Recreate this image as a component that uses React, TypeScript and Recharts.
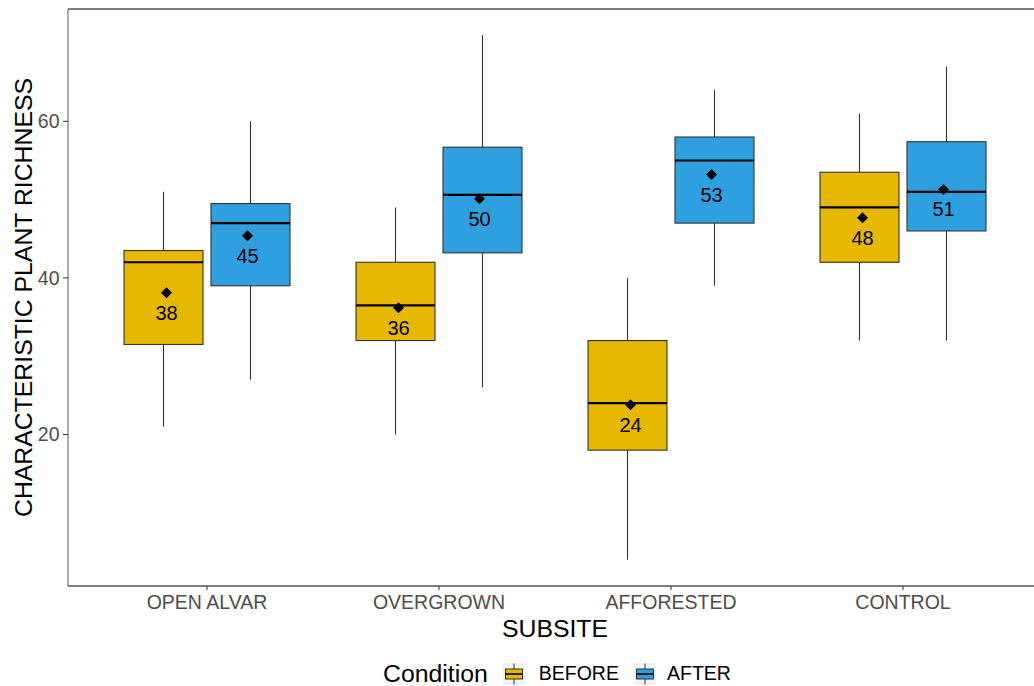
import React from 'react';
import { ComposedChart, Bar, XAxis, YAxis, Legend } from 'recharts';

// ---- data ----
const subsites = ['OPEN ALVAR', 'OVERGROWN', 'AFFORESTED', 'CONTROL'];
const conditions = ['BEFORE', 'AFTER'];

// BEFORE condition: box-plot statistics per subsite
const beforeMin = [21, 20, 4, 32];
const beforeQ1 = [31.5, 32, 18, 42];
const beforeMedian = [42, 36.5, 24, 49];
const beforeQ3 = [43.5, 42, 32, 53.5];
const beforeMax = [51, 49, 40, 61];
const beforeMean = [38.1, 36.2, 23.8, 47.7];

// AFTER condition: box-plot statistics per subsite
const afterMin = [27, 26, 39, 32];
const afterQ1 = [39, 43.2, 47, 46];
const afterMedian = [47, 50.6, 55, 51];
const afterQ3 = [49.5, 56.7, 58, 57.4];
const afterMax = [60, 71, 64, 67];
const afterMean = [45.4, 50.1, 53.2, 51.3];

const yTicks = [20, 40, 60];

// ---- styling ----
const FONT = '"Liberation Sans", Arial, Helvetica, sans-serif';
const BEFORE_FILL = '#E7B800';
const AFTER_FILL = '#2E9FDF';
const OUTLINE = '#333333';
const TICK_GREY = '#4d4d4d';

type Stats = { min: number; q1: number; median: number; q3: number; max: number; mean: number };
type Row = { name: string; BEFORE: Stats; AFTER: Stats };

const rows: Row[] = subsites.map((name, i) => ({
  name,
  BEFORE: {
    min: beforeMin[i], q1: beforeQ1[i], median: beforeMedian[i],
    q3: beforeQ3[i], max: beforeMax[i], mean: beforeMean[i],
  },
  AFTER: {
    min: afterMin[i], q1: afterQ1[i], median: afterMedian[i],
    q3: afterQ3[i], max: afterMax[i], mean: afterMean[i],
  },
}));

// y range: data extent with a 5% expansion on each side
const lo = Math.min(...beforeMin, ...afterMin);
const hi = Math.max(...beforeMax, ...afterMax);
const pad = (hi - lo) * 0.05;
const yDomain: [number, number] = [lo - pad, hi + pad];

// Each bar spans [min, max]; the shape draws whiskers, box, median, mean and its label,
// mapping values linearly inside the pixel span the y scale gave the bar.
function boxShape(cond: 'BEFORE' | 'AFTER', meanShift: number) {
  return (props: any) => {
    const { x, y, width, height, payload, fill } = props;
    const s: Stats = payload[cond];
    const top = Math.min(y, y + height);
    const h = Math.abs(height);
    const k = h / (s.max - s.min);
    const py = (v: number) => top + (s.max - v) * k;
    const cx = x + width / 2;
    const mx = cx + meanShift;
    const my = py(s.mean);
    const d = 5.5;
    return (
      <g>
        <line x1={cx} x2={cx} y1={py(s.max)} y2={py(s.q3)} stroke={OUTLINE} strokeWidth={1.1} />
        <line x1={cx} x2={cx} y1={py(s.q1)} y2={py(s.min)} stroke={OUTLINE} strokeWidth={1.1} />
        <rect
          x={x}
          y={py(s.q3)}
          width={width}
          height={py(s.q1) - py(s.q3)}
          fill={fill}
          stroke={OUTLINE}
          strokeWidth={1.1}
        />
        <line x1={x} x2={x + width} y1={py(s.median)} y2={py(s.median)} stroke="#000" strokeWidth={2.2} />
        <path d={`M${mx},${my - d} L${mx + d},${my} L${mx},${my + d} L${mx - d},${my} Z`} fill="#000" />
        <text
          x={mx}
          y={my + 27}
          textAnchor="middle"
          fontSize={20}
          fontFamily={FONT}
          fill="#000"
        >
          {Math.round(s.mean)}
        </text>
      </g>
    );
  };
}

const YTitle = (props: any) => {
  const vb = props.viewBox ?? { x: 0, y: 9, width: 68, height: 577 };
  const tx = vb.x + 32;
  const ty = vb.y + vb.height / 2;
  return (
    <text
      x={tx}
      y={ty}
      transform={`rotate(-90 ${tx} ${ty})`}
      textAnchor="middle"
      fontSize={24.8}
      fontFamily={FONT}
      fill="#000"
    >
      CHARACTERISTIC PLANT RICHNESS
    </text>
  );
};

const XTitle = (props: any) => {
  const vb = props.viewBox ?? { x: 68, y: 586, width: 974, height: 55 };
  return (
    <text
      x={vb.x + vb.width / 2}
      y={vb.y + 50.5}
      textAnchor="middle"
      fontSize={24.8}
      fontFamily={FONT}
      fill="#000"
    >
      SUBSITE
    </text>
  );
};

// legend key: a miniature box plot on a light grey tile
const KeyIcon = ({ fill }: { fill: string }) => (
  <svg width={22} height={22} style={{ display: 'block' }}>
    <rect x={0} y={0} width={22} height={22} fill="#f2f2f2" />
    <line x1={11} x2={11} y1={0.5} y2={21.5} stroke={OUTLINE} strokeWidth={1} />
    <rect x={2.5} y={6} width={17} height={10} fill={fill} stroke={OUTLINE} strokeWidth={1} />
    <line x1={2.5} x2={19.5} y1={11} y2={11} stroke="#000" strokeWidth={1.6} />
  </svg>
);

const renderLegend = (props: any) => {
  const fallback = [
    { value: 'BEFORE', color: BEFORE_FILL },
    { value: 'AFTER', color: AFTER_FILL },
  ];
  const src = props?.payload && props.payload.length ? props.payload : fallback;
  const items = [...src].sort(
    (a: any, b: any) => conditions.indexOf(String(a.value)) - conditions.indexOf(String(b.value)),
  );
  return (
    <div
      style={{
        display: 'flex',
        alignItems: 'center',
        height: 30,
        paddingLeft: 383,
        fontFamily: FONT,
        lineHeight: 1,
        color: '#000',
      }}
    >
      <span style={{ fontSize: 24.8, marginRight: 15 }}>Condition</span>
      {items.map((it: any, i: number) => (
        <React.Fragment key={String(it.value)}>
          <KeyIcon fill={it.color} />
          <span style={{ fontSize: 19.5, marginLeft: i === 0 ? 14 : 11, marginRight: 15 }}>{it.value}</span>
        </React.Fragment>
      ))}
    </div>
  );
};

export default function App() {
  return (
    <div
      style={{
        position: 'absolute',
        left: 0,
        top: 0,
        width: 1034,
        height: 686,
        overflow: 'hidden',
        background: '#fff',
      }}
    >
      <ComposedChart
        width={1050}
        height={686}
        data={rows}
        margin={{ top: 8, right: 8, bottom: 45, left: 0 }}
        barSize={79}
        barGap={8}
      >
        {/* panel top edge, drawn as a bare top axis */}
        <XAxis
          xAxisId="top"
          orientation="top"
          dataKey="name"
          type="category"
          height={1}
          padding={{ left: 23, right: 23 }}
          tick={false}
          tickLine={false}
          axisLine={{ stroke: '#000', strokeWidth: 1.1 }}
        />
        <XAxis
          dataKey="name"
          type="category"
          height={55}
          padding={{ left: 23, right: 23 }}
          tickSize={4}
          tickMargin={5}
          tick={{ fontSize: 19.5, fill: TICK_GREY, fontFamily: FONT }}
          tickLine={{ stroke: OUTLINE }}
          axisLine={{ stroke: '#000', strokeWidth: 1.1 }}
          label={<XTitle />}
        />
        <YAxis
          type="number"
          width={68}
          domain={yDomain}
          allowDataOverflow
          ticks={yTicks}
          tickSize={5}
          tickMargin={3.5}
          tick={{ fontSize: 19.5, fill: TICK_GREY, fontFamily: FONT }}
          tickLine={{ stroke: OUTLINE }}
          axisLine={{ stroke: '#666', strokeWidth: 1.1 }}
          label={<YTitle />}
        />
        <Legend
          layout="horizontal"
          verticalAlign="middle"
          align="center"
          content={renderLegend}
          wrapperStyle={{ position: 'absolute', left: 0, top: 659, width: 1034, height: 30 }}
        />
        <Bar
          name="BEFORE"
          dataKey={(r: Row) => [r.BEFORE.min, r.BEFORE.max]}
          fill={BEFORE_FILL}
          shape={boxShape('BEFORE', 3)}
          isAnimationActive={false}
        />
        <Bar
          name="AFTER"
          dataKey={(r: Row) => [r.AFTER.min, r.AFTER.max]}
          fill={AFTER_FILL}
          shape={boxShape('AFTER', -3)}
          isAnimationActive={false}
        />
      </ComposedChart>
    </div>
  );
}
